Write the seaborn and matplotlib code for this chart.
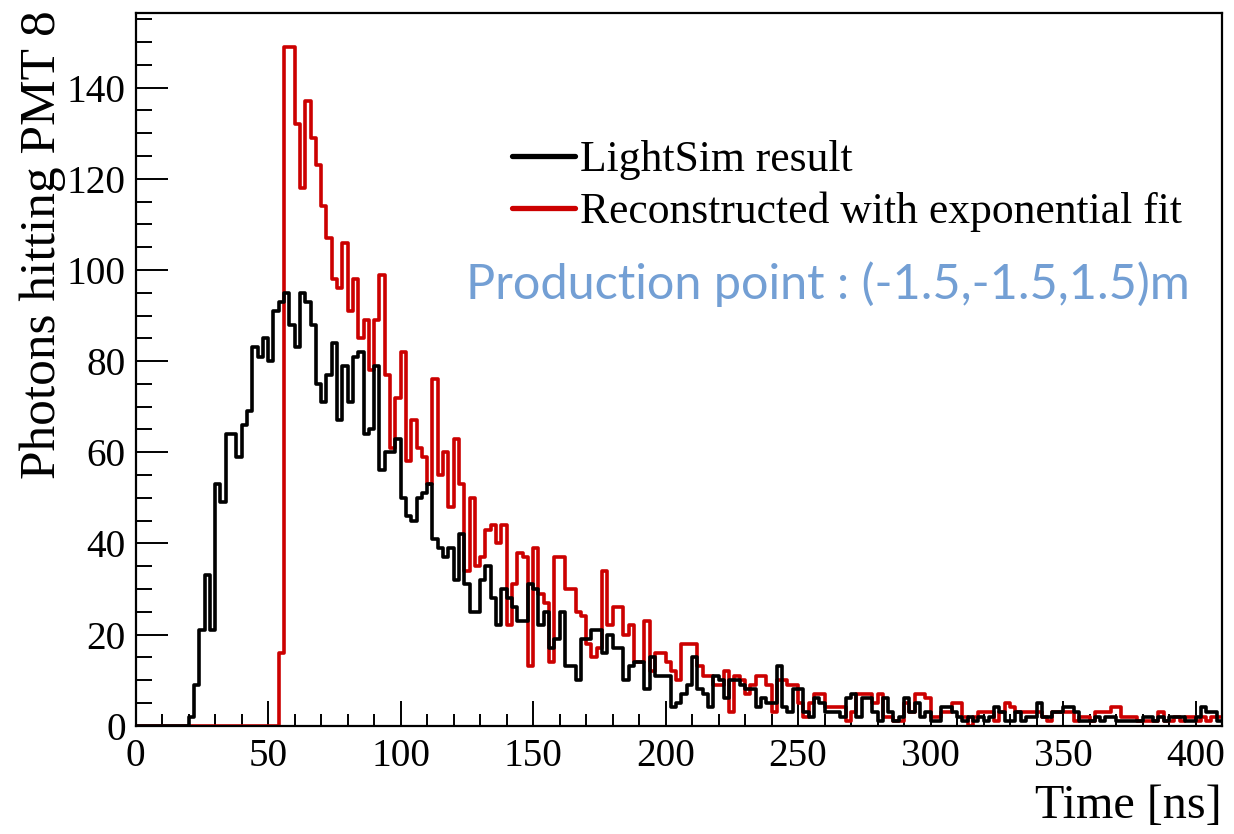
import numpy as np
import pandas as pd
import matplotlib
matplotlib.use("Agg")
import matplotlib.pyplot as plt
from matplotlib.lines import Line2D
from matplotlib.ticker import MultipleLocator
import seaborn as sns

# ── Histogram binning (ns) ───────────────────────────────────────────────────
bin_width = 2
t_max = 410

# LightSim result: counts per 2 ns bin, first bin starts at t = 20 ns
lightsim_start = 20
lightsim_counts = [
    2, 9, 21, 33, 21, 53, 49, 64, 64, 59,
    66, 69, 83, 81, 85, 80, 91, 93, 95, 88,
    83, 95, 93, 88, 75, 71, 77, 84, 67, 79,
    71, 81, 82, 64, 65, 79, 56, 60, 60, 63,
    50, 46, 45, 50, 51, 53, 41, 39, 37, 39,
    32, 42, 31, 25, 25, 32, 35, 28, 22, 30,
    28, 26, 23, 23, 31, 30, 22, 25, 17, 19,
    25, 13, 13, 10, 19, 19, 21, 21, 16, 20,
    17, 17, 10, 13, 14, 14, 8, 15, 11, 11,
    11, 4, 5, 7, 9, 15, 8, 7, 4, 11,
    10, 6, 10, 10, 9, 8, 8, 4, 6, 5,
    5, 13, 4, 3, 8, 8, 3, 2, 6, 5,
    3, 3, 3, 2, 6, 7, 2, 6, 6, 3,
    1, 6, 3, 1, 2, 6, 3, 5, 2, 3,
    1, 1, 4, 4, 3, 2, 1, 2, 1, 2,
    1, 2, 4, 3, 1, 1, 3, 1, 2, 2,
    5, 2, 2, 3, 3, 4, 4, 3, 1, 1,
    1, 2, 1, 2, 2, 1, 1, 1, 1, 1,
    2, 2, 1, 2, 1, 2, 2, 2, 1, 1,
    2, 4, 3, 3, 1,
]

# Reconstructed with exponential fit: first bin starts at t = 54 ns
recon_start = 54
recon_counts = [
    16, 149, 149, 132, 118, 137, 129, 123, 114, 107,
    98, 96, 106, 91, 98, 85, 89, 78, 89, 99,
    77, 61, 72, 82, 58, 67, 61, 59, 53, 76,
    55, 60, 48, 63, 53, 34, 50, 35, 37, 43,
    44, 40, 44, 22, 31, 38, 37, 13, 39, 29,
    27, 14, 37, 37, 30, 30, 25, 24, 18, 15,
    17, 34, 22, 26, 26, 20, 22, 14, 14, 23,
    12, 16, 16, 14, 12, 10, 18, 18, 18, 13,
    11, 11, 9, 9, 12, 3, 11, 10, 7, 9,
    11, 11, 9, 3, 10, 10, 9, 9, 5, 2,
    5, 7, 7, 4, 4, 4, 4, 1, 3, 7,
    7, 7, 5, 7, 2, 2, 1, 1, 5, 3,
    7, 7, 6, 2, 2, 3, 3, 5, 5, 2,
    0, 2, 3, 3, 3, 1, 3, 5, 4, 3,
    3, 3, 3, 3, 2, 1, 3, 3, 3, 3,
    1, 2, 2, 1, 3, 3, 3, 4, 4, 2,
    2, 2, 1, 1, 1, 1, 3, 1, 1, 2,
    1, 2, 2, 1, 2, 1, 2, 2,
]

series_labels = ["LightSim result", "Reconstructed with exponential fit"]
annotation = "Production point : (-1.5,-1.5,1.5)m"

RED = "#cc0000"
BLUE_TXT = "#739fd4"

W, H = 1234, 834


def fill_bins(start, counts, n_bins):
    full = np.zeros(n_bins)
    i0 = start // bin_width
    vals = np.asarray(counts[: n_bins - i0], dtype=float)
    full[i0:i0 + len(vals)] = vals
    return full


def px(x, y):
    """pixel position (from top-left) -> figure fraction"""
    return x / W, 1 - y / H


n_bins = t_max // bin_width
centers = np.arange(n_bins) * bin_width + bin_width / 2
df = pd.DataFrame({
    "t": centers,
    "light": fill_bins(lightsim_start, lightsim_counts, n_bins),
    "recon": fill_bins(recon_start, recon_counts, n_bins),
})

sns.set_theme(style="ticks")
plt.rcParams["font.family"] = ["Liberation Serif", "DejaVu Serif"]
plt.rcParams["text.color"] = "black"
plt.rcParams["axes.labelcolor"] = "black"

fig = plt.figure(figsize=(W / 100, H / 100), dpi=100)
ax = fig.add_axes([135.7 / W, 108.3 / H, (1222 - 135.7) / W, (725.7 - 12.7) / H])

for col, colour in [("recon", RED), ("light", "black")]:
    sns.histplot(data=df, x="t", weights=col, binwidth=bin_width,
                 binrange=(0, t_max), element="step", fill=False,
                 color=colour, linewidth=2.6, ax=ax)

ax.set_xlim(0, t_max)
ax.set_ylim(0, 1.05 * max(df["recon"].max(), df["light"].max()))

# ROOT-like axes
ax.xaxis.set_major_locator(MultipleLocator(50))
ax.xaxis.set_minor_locator(MultipleLocator(10))
ax.yaxis.set_major_locator(MultipleLocator(20))
ax.yaxis.set_minor_locator(MultipleLocator(5))
ax.tick_params(which="both", direction="in", top=False, right=False,
               width=1.4, colors="black", labelsize=28.3)
ax.tick_params(axis="x", which="major", length=18, pad=8.5)
ax.tick_params(axis="x", which="minor", length=8.6)
ax.tick_params(axis="y", which="major", length=23, pad=7)
ax.tick_params(axis="y", which="minor", length=11.5)
for sp in ax.spines.values():
    sp.set_linewidth(1.6)
    sp.set_color("black")

ax.set_xlabel("Time [ns]", fontsize=34.7, loc="right")
ax.set_ylabel("Photons hitting PMT 8", fontsize=37, loc="top")
ax.xaxis.set_label_coords(1.0, -0.082)
ax.yaxis.set_label_coords((66 - 135.7) / (1222 - 135.7), 1.004)

handles = [Line2D([], [], color="black", lw=3.8),
           Line2D([], [], color=RED, lw=3.8)]
ax.legend(handles, series_labels, loc="upper left",
          bbox_to_anchor=px(512, 140), bbox_transform=fig.transFigure,
          frameon=False, fontsize=31.4, borderpad=0, borderaxespad=0,
          handlelength=1.44, handletextpad=0.12, labelspacing=0.27)

fig.text(*px(1190, 284), annotation, ha="right", va="center",
         color=BLUE_TXT, fontsize=35, family="Lato", fontweight="normal")

fig.savefig("out.png", dpi=100)
